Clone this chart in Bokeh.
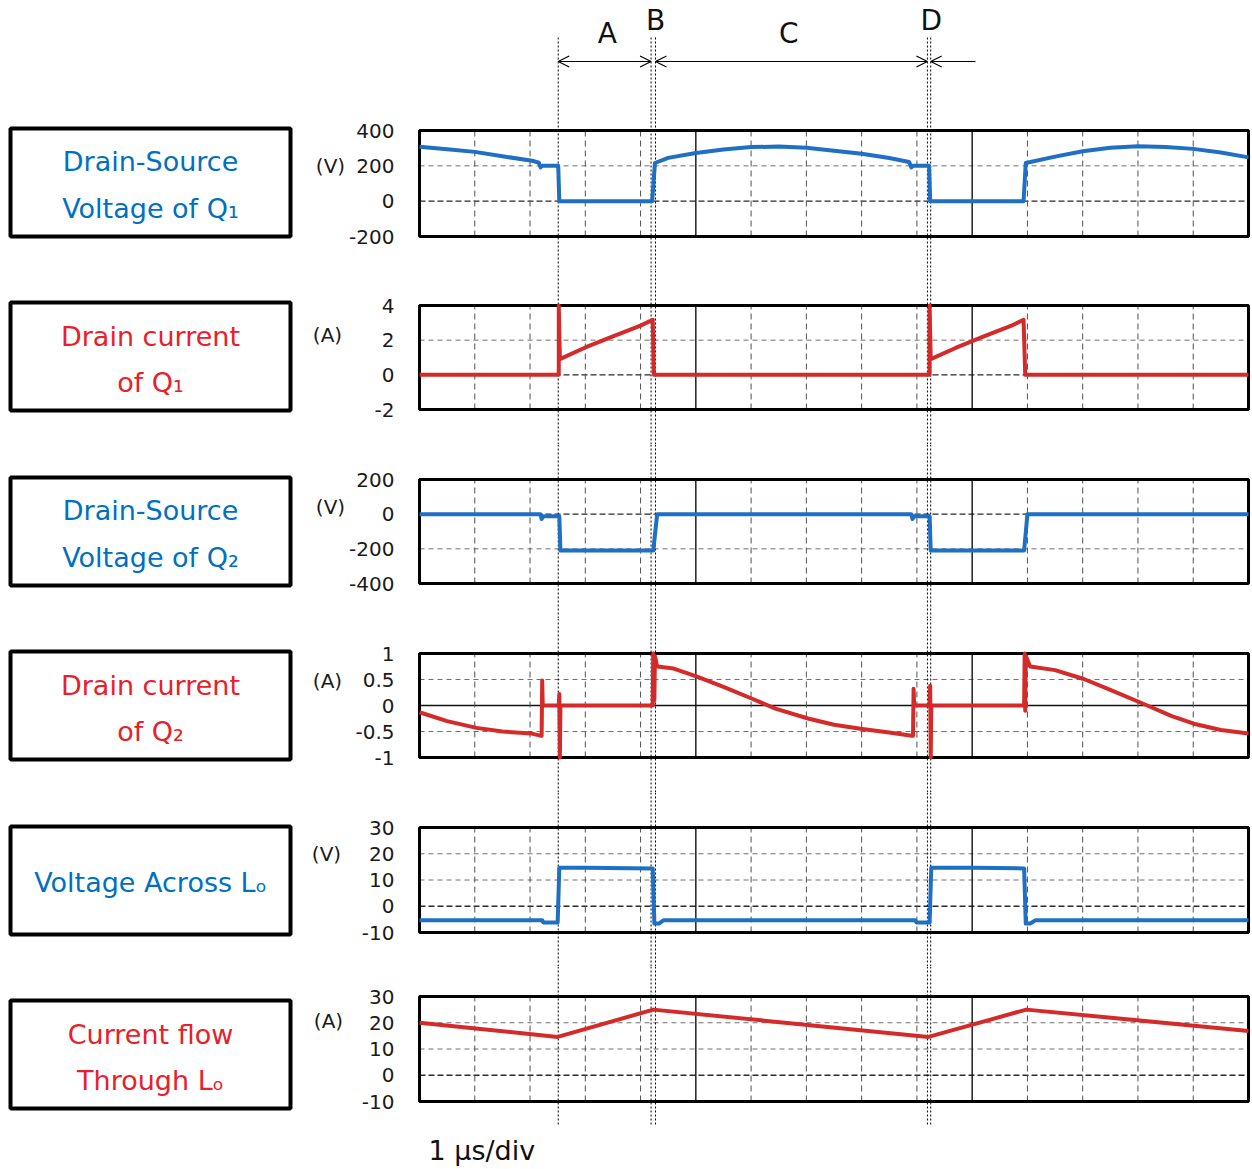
from bokeh.plotting import figure
from bokeh.layouts import column, row
from bokeh.models import Range1d, FixedTicker, Arrow, OpenHead
from bokeh.core.properties import value
from bokeh.embed import file_html
from bokeh.resources import INLINE

# ---------------- data (time in microseconds) ----------------
t_vds_q1 = [0.00, 0.50, 1.00, 1.50, 2.04, 2.16, 2.19, 2.22, 2.51, 2.53, 4.21, 4.26, 4.50, 5.00,
            5.50, 6.00, 6.50, 7.00, 7.50, 8.00, 8.50, 8.86, 8.90, 8.93, 9.22, 9.24, 10.93, 10.97,
            11.50, 12.00, 12.50, 13.00, 13.50, 14.00, 14.50, 15.00]
v_vds_q1 = [308, 294, 279, 254, 229, 218, 191, 200, 200, 0, 0, 216, 245, 273,
            293, 306, 309, 302, 286, 268, 244, 222, 191, 200, 200, 0, 0, 216,
            252, 283, 302, 311, 307, 296, 275, 248]

t_id_q1 = [0.00, 2.52, 2.52, 2.54, 3.00, 3.50, 4.00, 4.22, 4.24, 9.23, 9.23, 9.25, 9.70,
           10.20, 10.70, 10.93, 10.96, 15.00]
i_id_q1 = [0, 0, 4.0, 0.91, 1.58, 2.22, 2.84, 3.18, 0, 0, 4.0, 0.91, 1.55,
           2.20, 2.82, 3.18, 0, 0]

t_vds_q2 = [0.00, 2.19, 2.21, 2.24, 2.53, 2.55, 4.23, 4.30, 8.90, 8.92, 8.95, 9.23, 9.25,
            10.94, 11.00, 15.00]
v_vds_q2 = [0, 0, -28, -12, -12, -210, -210, 0, 0, -28, -12, -12, -210,
            -210, 0, 0]

t_id_q2 = [0.00, 0.50, 1.03, 1.50, 2.03, 2.19, 2.21, 2.22, 2.23, 2.52,
           2.53, 2.54, 2.55, 4.22, 4.23, 4.25, 4.26, 4.30, 4.60, 5.01,
           5.50, 6.02, 6.44, 7.03, 7.50, 8.01, 8.50, 8.91, 8.93, 8.94,
           8.95, 9.23, 9.24, 9.25, 9.26, 10.94, 10.95, 10.96, 10.97, 11.05,
           11.50, 12.02, 12.50, 13.17, 13.60, 14.01, 14.50, 15.00]
i_id_q2 = [-0.13, -0.30, -0.43, -0.50, -0.54, -0.58, -0.58, 0.48, 0.0, 0.0,
           0.22, -1.0, 0.0, 0.0, 1.0, 0.1, 0.95, 0.75, 0.71, 0.56,
           0.36, 0.13, -0.06, -0.25, -0.37, -0.45, -0.52, -0.58, -0.58, 0.32,
           0.0, 0.0, 0.38, -1.0, 0.0, 0.0, 1.0, -0.1, 0.95, 0.75,
           0.68, 0.51, 0.30, 0.0, -0.20, -0.35, -0.47, -0.54]

t_v_lo = [0.00, 2.22, 2.24, 2.50, 2.53, 3.00, 4.22, 4.25, 4.33, 4.42, 8.97, 8.99, 9.23, 9.26,
          10.00, 10.94, 10.97, 11.05, 11.15, 15.00]
v_v_lo = [-5.3, -5.3, -6.2, -6.2, 14.7, 14.7, 14.4, -6.6, -6.6, -5.3, -5.3, -6.2, -6.2, 14.7,
          14.7, 14.4, -6.6, -6.6, -5.3, -5.3]

t_i_lo = [0.00, 2.50, 4.23, 9.21, 10.98, 15.00]
i_i_lo = [20.0, 14.6, 25.0, 14.6, 25.0, 16.9]

y_ticks = [[-200, 0, 200, 400], [-2, 0, 2, 4], [-400, -200, 0, 200],
           [-1, -0.5, 0, 0.5, 1], [-10, 0, 10, 20, 30], [-10, 0, 10, 20, 30]]
y_tick_labels = [["-200", "0", "200", "400"], ["-2", "0", "2", "4"],
                 ["-400", "-200", "0", "200"], ["-1", "-0.5", "0", "0.5", "1"],
                 ["-10", "0", "10", "20", "30"], ["-10", "0", "10", "20", "30"]]
units = ["(V)", "(A)", "(V)", "(A)", "(V)", "(A)"]
titles = [["Drain-Source", "Voltage of Q\u2081"], ["Drain current", "of Q\u2081"],
          ["Drain-Source", "Voltage of Q\u2082"], ["Drain current", "of Q\u2082"],
          ["Voltage Across L\u2092"], ["Current flow", "Through L\u2092"]]
divisions = list(range(1, 15))
major_divisions = [5, 10]
marker_t = [2.51, 4.19, 4.27, 9.19, 9.25]
phase_labels = ["A", "B", "C", "D"]
phase_t = [3.40, 4.27, 6.68, 9.26]
time_div_label = "1 \u03bcs/div"

series_t = [t_vds_q1, t_id_q1, t_vds_q2, t_id_q2, t_v_lo, t_i_lo]
series_v = [v_vds_q1, i_id_q1, v_vds_q2, i_id_q2, v_v_lo, i_i_lo]

# ---------------- layout / style (page pixel coordinates) ----------------
BLUE_LINE = "#1F6FC5"
RED_LINE = "#D42A2A"
BLUE_TXT = "#0070C0"
RED_TXT = "#E8202A"
series_color = [BLUE_LINE, RED_LINE, BLUE_LINE, RED_LINE, BLUE_LINE, RED_LINE]
title_color = [BLUE_TXT, RED_TXT, BLUE_TXT, RED_TXT, BLUE_TXT, RED_TXT]

FONT = value("DejaVu Sans")
BAND = [(0, 270), (270, 444), (444, 618), (618, 792), (792, 966), (966, 1167)]
BOX_T = [130, 305, 479, 653, 827, 996]
BOX_B = [236, 409, 583, 757, 932, 1101]
LBOX_T = [126, 300, 475, 649, 824, 998]
LBOX_B = [238, 412, 587, 761, 936, 1110]
TITLE_Y = [[161, 208], [336, 382], [510, 557], [685, 731], [882], [1034, 1080]]
UNIT_XY = [(330, 165), (327, 334), (330, 506), (327, 680), (326, 853), (328, 1020)]
LW = 346            # label figure width (page x 0 .. 346)
PW = 904            # panel figure width (page x 346 .. 1250)
FRAME_L = 415       # page x of panel frame left edge
FRAME_R = LW + PW
T0_X, T15_X = 419, 1248
PXPU = (T15_X - T0_X) / 15.0
X_START = -(T0_X - FRAME_L) / PXPU
X_END = 15 + (FRAME_R - T15_X) / PXPU
DOT_TOP, DOT_BOT = 37, 1125

rows = []
for i in range(6):
    y0, y1 = BAND[i]
    h = y1 - y0

    # ---- left label box ----
    lf = figure(width=LW, height=h, x_range=Range1d(0, LW), y_range=Range1d(y1, y0),
                x_axis_type=None, y_axis_type=None, toolbar_location=None,
                output_backend="svg", min_border=0)
    lf.outline_line_color = None
    lf.quad(left=[10], right=[290], top=[LBOX_T[i] + 2], bottom=[LBOX_B[i] - 2],
            fill_color=None, line_color="black", line_width=4)
    n = len(titles[i])
    lf.text(x=[150] * n, y=TITLE_Y[i], text=titles[i], text_color=title_color[i],
            text_font=FONT, text_font_size=value("27px"), text_align="center",
            text_baseline="middle")
    ux, uy = UNIT_XY[i]
    lf.text(x=[ux], y=[uy], text=[units[i]], text_color="#1a1a1a", text_font=FONT,
            text_font_size=value("20px"), text_align="center", text_baseline="middle")

    # ---- oscilloscope panel ----
    ticks = y_ticks[i]
    vmin, vmax = min(ticks), max(ticks)
    T, B = BOX_T[i], BOX_B[i]
    vpp = (vmax - vmin) / (B - T)
    yr = Range1d(start=vmin - (y1 - B) * vpp, end=vmax + (T - y0) * vpp)
    p = figure(width=PW, height=h, x_range=Range1d(X_START, X_END), y_range=yr,
               x_axis_type=None, toolbar_location=None, output_backend="svg",
               min_border_left=FRAME_L - LW, min_border_right=0,
               min_border_top=0, min_border_bottom=0)
    p.extra_y_ranges = {"page": Range1d(start=y1, end=y0)}
    p.outline_line_color = None
    p.xgrid.visible = False
    p.ygrid.visible = False
    ax = p.yaxis[0]
    ax.ticker = FixedTicker(ticks=ticks)
    ax.major_label_overrides = {tk: lab for tk, lab in zip(ticks, y_tick_labels[i])}
    ax.axis_line_color = None
    ax.major_tick_line_color = None
    ax.minor_tick_line_color = None
    ax.major_tick_out = 0
    ax.major_tick_in = 0
    ax.major_label_standoff = FRAME_L - 394
    ax.major_label_text_font = "DejaVu Sans"
    ax.major_label_text_font_size = "20px"
    ax.major_label_text_color = "#1a1a1a"

    # horizontal grid
    inner = [tk for tk in ticks if vmin < tk < vmax and tk != 0]
    p.segment(x0=[0] * len(inner), x1=[15] * len(inner), y0=inner, y1=inner,
              line_color="#707070", line_width=1, line_dash="5 4")
    if i == 3:
        p.segment(x0=[0], x1=[15], y0=[0], y1=[0], line_color="#111111", line_width=1.3)
    else:
        p.segment(x0=[0], x1=[15], y0=[0], y1=[0], line_color="#2a2a2a", line_width=1.3,
                  line_dash="6 3")
    # vertical grid
    minor = [d for d in divisions if d not in major_divisions]
    p.segment(x0=minor, x1=minor, y0=[vmin] * len(minor), y1=[vmax] * len(minor),
              line_color="#505050", line_width=1, line_dash="6 4")
    p.segment(x0=major_divisions, x1=major_divisions, y0=[vmin] * 2, y1=[vmax] * 2,
              line_color="#111111", line_width=1.4)
    # frame box
    p.quad(left=[0], right=[15], bottom=[vmin], top=[vmax], fill_color=None,
           line_color="black", line_width=3)
    # dotted phase markers
    ya, yb = max(DOT_TOP, y0), min(DOT_BOT, y1)
    p.segment(x0=marker_t, x1=marker_t, y0=[ya] * len(marker_t), y1=[yb] * len(marker_t),
              y_range_name="page", line_color="black", line_width=1, line_dash="2 2")
    # waveform
    p.line(series_t[i], series_v[i], line_color=series_color[i], line_width=4,
           line_join="round")

    if i == 0:
        head = dict(size=11, line_width=1.2, line_color="black")
        p.add_layout(Arrow(x_start=marker_t[0], x_end=marker_t[1], y_start=61, y_end=61,
                           y_range_name="page", start=OpenHead(**head), end=OpenHead(**head),
                           line_width=1.2, line_color="black"))
        p.add_layout(Arrow(x_start=marker_t[2], x_end=marker_t[3], y_start=61, y_end=61,
                           y_range_name="page", start=OpenHead(**head), end=OpenHead(**head),
                           line_width=1.2, line_color="black"))
        p.add_layout(Arrow(x_start=10.06, x_end=marker_t[4], y_start=61, y_end=61,
                           y_range_name="page", start=None, end=OpenHead(**head),
                           line_width=1.2, line_color="black"))
        p.text(x=phase_t, y=[33, 20, 33, 20], text=phase_labels, y_range_name="page",
               text_font=FONT, text_font_size=value("28px"), text_color="#111111",
               text_align="center", text_baseline="middle")
    if i == 5:
        p.text(x=[(428 - T0_X) / PXPU], y=[1150], text=[time_div_label], y_range_name="page",
               text_font=FONT, text_font_size=value("27px"), text_color="#111111",
               text_align="left", text_baseline="middle")

    rows.append(row(lf, p))

layout = column(*rows)
open("out.html", "w").write(file_html(layout, INLINE))
